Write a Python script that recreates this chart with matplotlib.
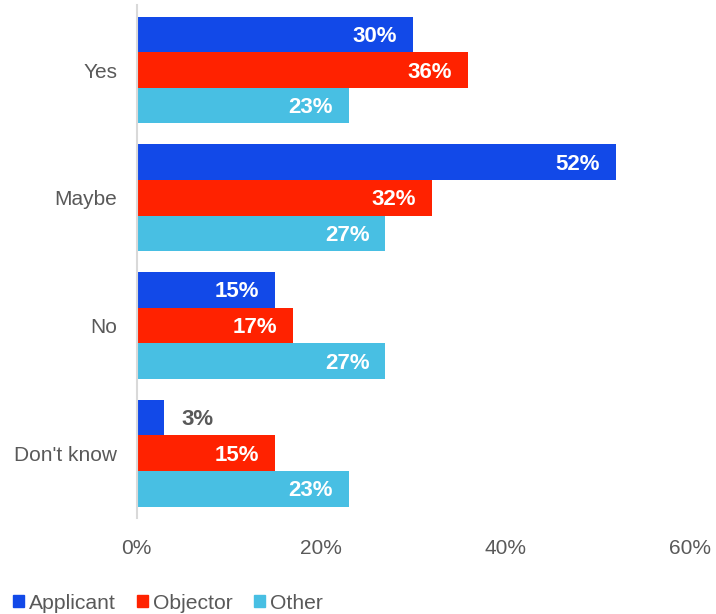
import matplotlib
matplotlib.use("Agg")
import matplotlib.pyplot as plt
import numpy as np
from matplotlib.patches import Patch

plt.rcParams['font.family'] = ['Liberation Sans', 'DejaVu Sans']

categories = ["Yes", "Maybe", "No", "Don't know"]
series_names = ["Applicant", "Objector", "Other"]
applicant = [30, 52, 15, 3]
objector = [36, 32, 17, 15]
other = [23, 27, 27, 23]
xticks = [0, 20, 40, 60]
colors = ["#1249E8", "#FF2200", "#48BFE3"]

fig = plt.figure(figsize=(7.16, 6.14), dpi=100)
ax = fig.add_axes([0.191, 0.156, 0.772, 0.836])

series = [applicant, objector, other]
bh = 0.279
y = np.arange(len(categories))
for i, (vals, col) in enumerate(zip(series, colors)):
    pos = y + (i - 1) * bh
    ax.barh(pos, vals, height=bh, color=col, edgecolor='none')
    for p, v in zip(pos, vals):
        if v >= 10:
            ax.annotate(f"{v}%", xy=(v, p), xytext=(-16, -2), textcoords='offset pixels',
                        ha='right', va='center', color='white', fontsize=16, fontweight='bold')
        else:
            ax.annotate(f"{v}%", xy=(v, p), xytext=(17, -2), textcoords='offset pixels',
                        ha='left', va='center', color='#595959', fontsize=16, fontweight='bold')

ax.set_xlim(0, 60)
ax.set_ylim(3.51, -0.51)
ax.set_yticks(y)
ax.set_yticklabels(categories)
ax.set_xticks(xticks)
ax.set_xticklabels([f"{t}%" for t in xticks])
for s in ['top', 'right', 'bottom']:
    ax.spines[s].set_visible(False)
ax.spines['left'].set_color('#d9d9d9')
ax.spines['left'].set_linewidth(1.5)
ax.tick_params(axis='both', length=0, labelsize=15, labelcolor='#595959')
ax.tick_params(axis='y', pad=14)
ax.tick_params(axis='x', pad=15)

handles = [Patch(color=c, label=n) for c, n in zip(colors, series_names)]
fig.legend(handles=handles, loc='lower left', bbox_to_anchor=(-0.009, -0.029), ncol=3,
           frameon=False, fontsize=15.2, handlelength=0.52, handleheight=0.52,
           handletextpad=0.25, columnspacing=1.0, labelcolor='#595959')

fig.savefig("out.png", dpi=100)
